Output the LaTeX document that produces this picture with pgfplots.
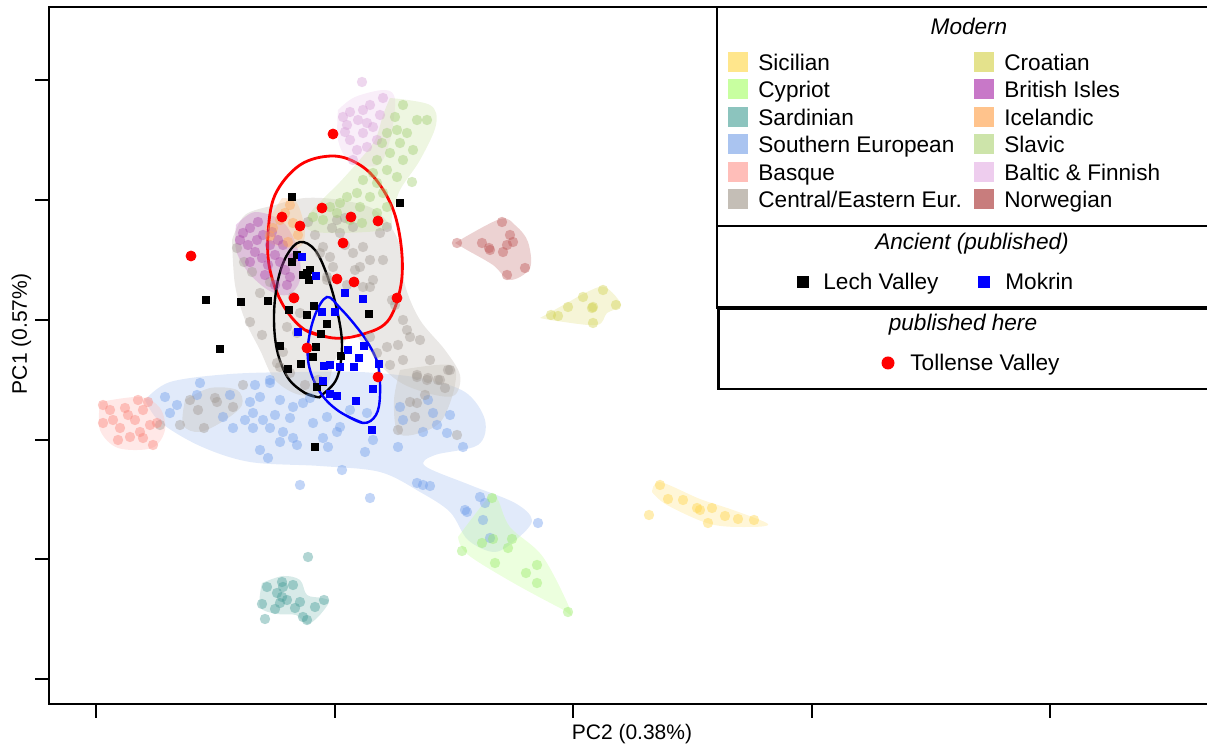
\documentclass[border=0pt]{standalone}
\usepackage{pgfplots}
\pgfplotsset{compat=1.18}
\usepackage{fontspec}
\setmainfont{Liberation Sans}
% point colours
\definecolor{sicP}{RGB}{255,212,70}
\definecolor{croP}{RGB}{210,210,80}
\definecolor{cypP}{RGB}{150,235,100}
\definecolor{briP}{RGB}{170,70,170}
\definecolor{sarP}{RGB}{70,155,150}
\definecolor{iceP}{RGB}{255,165,80}
\definecolor{seuP}{RGB}{110,155,235}
\definecolor{slaP}{RGB}{160,205,110}
\definecolor{basP}{RGB}{250,130,120}
\definecolor{balP}{RGB}{215,160,215}
\definecolor{ceeP}{RGB}{160,152,145}
\definecolor{norP}{RGB}{190,85,85}
% legend / hull colours
\definecolor{sicL}{RGB}{255,230,140}
\definecolor{croL}{RGB}{228,226,140}
\definecolor{cypL}{RGB}{200,255,160}
\definecolor{briL}{RGB}{200,120,200}
\definecolor{sarL}{RGB}{140,196,190}
\definecolor{iceL}{RGB}{255,195,140}
\definecolor{seuL}{RGB}{170,196,240}
\definecolor{slaL}{RGB}{205,228,170}
\definecolor{basL}{RGB}{255,190,185}
\definecolor{balL}{RGB}{238,205,238}
\definecolor{ceeL}{RGB}{196,190,182}
\definecolor{norL}{RGB}{200,125,125}
\definecolor{mokB}{RGB}{0,0,255}
\definecolor{tolR}{RGB}{255,0,0}
\newcommand\lf{\fontsize{11.3}{13}\selectfont}
\newcommand\af{\fontsize{10.5}{12}\selectfont}
\begin{document}
\begin{tikzpicture}
\begin{axis}[
  x=0.5pt, y=0.5pt,
  at={(0,0)}, anchor=south west,
  xmin=49, xmax=1212, ymin=40, ymax=737,
  y filter/.expression={744-y},
  xtick={96,335,573,812,1050}, ytick={65,185,304,424,544,664},
  xticklabels={,,,,,}, yticklabels={,,,,,,},
  tick align=outside, tick pos=left, major tick length=7pt,
  tick style={black, line width=1pt},
  axis line style={black, line width=1.25pt},
  clip=false,
  hull/.style={draw=none, fill=#1, fill opacity=0.35, smooth, tension=0.55, mark=none},
  mod/.style={only marks, mark=*, mark size=2.6pt, color=#1, mark options={draw=none, draw opacity=0, fill=#1, fill opacity=0.42}},
]
% ---------- hulls ----------
\addplot[hull=seuL] coordinates {(145,400) (170,382) (230,374) (300,372) (360,372) (420,378) (465,392) (485,420) (478,445) (435,455) (425,466) (470,485) (515,503) (532,520) (518,538) (495,552) (468,540) (450,512) (420,492) (380,472) (320,466) (250,462) (200,446) (160,422) (145,400)};
\addplot[hull=ceeL] coordinates {(232,240) (245,215) (275,205) (305,198) (340,200) (375,210) (398,240) (405,285) (420,320) (445,350) (460,375) (455,395) (435,395) (405,385) (385,370) (365,345) (350,335) (335,360) (325,390) (300,395) (275,380) (260,350) (245,320) (235,285) (232,240)};
\addplot[hull=ceeL] coordinates {(185,400) (210,388) (237,390) (242,405) (225,420) (200,432) (183,425) (185,400)};
\addplot[hull=ceeL] coordinates {(400,370) (450,365) (455,385) (442,420) (420,433) (398,433) (394,400) (400,370)};
\addplot[hull=briL] coordinates {(236,225) (255,212) (283,222) (298,250) (300,280) (288,295) (268,290) (248,272) (236,250) (236,225)};
\addplot[hull=iceL] coordinates {(282,198) (297,203) (305,232) (298,248) (270,243) (265,228) (282,198)};
\addplot[hull=balL] coordinates {(338,110) (355,97) (385,90) (395,100) (390,140) (378,165) (350,162) (338,140) (338,110)};
\addplot[hull=slaL] coordinates {(390,98) (430,105) (436,125) (420,160) (400,190) (392,215) (385,230) (315,232) (308,216) (340,182) (357,163) (375,140) (383,115) (390,98)};
\addplot[hull=norL] coordinates {(455,243) (500,219) (516,226) (528,242) (530,268) (510,280) (493,265) (467,250) (455,243)};
\addplot[hull=croL] coordinates {(540,318) (567,303) (587,292) (605,287) (621,305) (607,313) (597,325) (557,321) (540,318)};
\addplot[hull=sicL] coordinates {(652,492) (660,482) (700,499) (733,510) (768,524) (748,527) (710,524) (667,505) (652,492)};
\addplot[hull=cypL] coordinates {(458,537) (490,496) (498,500) (510,527) (543,557) (571,612) (560,608) (510,581) (467,554) (458,537)};
\addplot[hull=sarL] coordinates {(262,583) (283,576) (300,580) (307,595) (322,598) (329,602) (318,617) (307,624) (296,615) (277,614) (260,607) (262,583)};
\addplot[hull=basL] coordinates {(100,402) (140,397) (160,408) (165,430) (152,448) (118,448) (100,430) (100,402)};
% ---------- modern points ----------
\addplot[mod=seuP] coordinates {(200,383) (165,397) (177,405) (170,413) (197,395) (223,417) (233,428) (250,402) (260,397) (270,383) (280,400) (293,407) (303,403) (253,413) (263,420) (253,428) (270,428) (283,432) (293,438) (280,442) (260,450) (268,458) (297,445) (313,423) (327,417) (340,427) (337,432) (323,438) (328,447) (350,410) (367,413) (373,440) (365,452) (342,470) (300,485) (370,498) (400,407) (403,420) (423,432) (433,413) (437,425) (450,415) (447,433) (463,447) (398,447) (428,400) (417,483) (423,485) (430,486) (465,510) (480,497) (485,503) (270,380) (467,512) (483,520) (538,523) (490,538) (310,398) (245,420) (275,415) (255,385) (290,418) (230,395)};
\addplot[mod=ceeP] coordinates {(237,248) (244,262) (252,272) (260,293) (270,282) (250,322) (262,335) (277,363) (290,373) (283,352) (293,297) (300,313) (287,327) (297,333) (280,367) (305,385) (318,380) (323,247) (330,257) (340,233) (333,267) (327,280) (353,253) (363,247) (370,260) (360,267) (373,280) (383,260) (380,233) (387,227) (370,287) (353,227) (345,245) (337,220) (355,270) (363,287) (347,285) (320,253) (327,277) (315,235) (308,222) (370,337) (377,353) (387,347) (403,320) (410,337) (420,340) (403,360) (417,377) (427,380) (440,380) (450,370) (407,330) (395,305) (398,345) (430,360) (445,388) (390,365) (392,300) (345,218) (332,228) (198,410) (204,428) (215,398) (217,402) (233,407) (180,425) (243,385) (190,400) (160,425) (417,375) (428,378) (438,380) (448,370) (410,402) (417,403) (415,417) (398,430) (457,435) (425,395)};
\addplot[mod=briP] coordinates {(243,233) (250,228) (257,240) (263,235) (270,245) (255,252) (262,258) (275,255) (280,262) (285,270) (290,277) (268,265) (248,245) (272,232) (283,245) (240,240) (293,258) (258,222) (278,240) (265,275) (250,262) (287,285) (275,285)};
\addplot[mod=iceP] coordinates {(290,205) (285,213) (280,220) (273,228) (293,223) (298,235) (270,236) (288,242)};
\addplot[mod=balP] coordinates {(343,117) (350,112) (363,110) (370,105) (383,98) (358,120) (367,123) (347,125) (373,127) (350,140) (363,133) (357,150) (367,147) (377,140) (353,160) (362,82) (380,115) (345,132)};
\addplot[mod=slaP] coordinates {(403,105) (395,117) (417,120) (427,120) (397,130) (407,133) (387,133) (382,143) (400,143) (413,150) (390,153) (403,160) (377,160) (387,170) (373,173) (397,177) (412,182) (363,180) (377,183) (383,193) (357,193) (370,197) (347,197) (340,203) (360,207) (330,207) (337,213) (313,217) (323,220) (377,213) (387,207) (350,220) (362,223)};
\addplot[mod=norP] coordinates {(457,243) (502,222) (510,235) (513,242) (507,245) (503,252) (490,250) (482,243) (489,248) (525,268) (507,275)};
\addplot[mod=croP] coordinates {(551,315) (558,316) (568,307) (583,297) (603,290) (592,308) (593,307) (616,305) (593,323)};
\addplot[mod=sicP] coordinates {(660,485) (668,499) (683,500) (697,508) (700,510) (712,508) (708,523) (725,516) (738,519) (754,520) (649,515)};
\addplot[mod=cypP] coordinates {(492,498) (462,551) (482,543) (512,539) (508,548) (495,563) (526,573) (537,565) (537,583) (568,612) (493,539)};
\addplot[mod=sarP] coordinates {(308,557) (267,587) (282,582) (293,585) (277,593) (282,597) (287,600) (280,603) (262,604) (275,609) (265,619) (300,602) (295,608) (315,607) (324,600) (303,617) (307,620) (283,587)};
\addplot[mod=basP] coordinates {(103,405) (110,410) (103,423) (113,420) (120,428) (128,415) (135,420) (143,410) (148,402) (140,432) (130,437) (118,440) (143,438) (150,425) (157,423) (125,408) (138,400) (153,445)};
% ---------- ellipses ----------
\addplot[smooth, tension=0.6, line width=1.4pt, tolR, mark=none] coordinates {(333,338) (305,330) (283,305) (270,270) (268,235) (275,195) (300,165) (333,156) (360,165) (380,185) (395,215) (402,255) (400,290) (387,322) (360,335) (333,338) (305,330)};
\addplot[smooth, tension=0.6, line width=1.2pt, black, mark=none] coordinates {(317,397) (305,393) (288,378) (277,350) (274,315) (278,280) (287,255) (300,242) (315,250) (327,275) (337,310) (342,345) (337,378) (322,395) (317,397) (305,393)};
\addplot[smooth, tension=0.6, line width=1.2pt, mokB, mark=none] coordinates {(363,423) (340,412) (322,395) (310,370) (308,345) (315,315) (327,297) (340,308) (355,325) (368,343) (378,365) (380,395) (376,415) (363,423) (340,412)};
% ---------- ancient ----------
\addplot[only marks, mark=square*, mark size=1.9pt, black] coordinates {(292,197) (400,203) (206,300) (241,302) (268,301) (220,349) (297,255) (292,262) (307,273) (310,270) (309,280) (303,275) (314,306) (307,315) (289,310) (327,324) (369,314) (321,334) (280,346) (316,347) (313,357) (301,364) (288,369) (341,356) (317,387) (323,382) (315,447)};
\addplot[only marks, mark=square*, mark size=1.9pt, mokB] coordinates {(302,257) (316,276) (345,293) (363,299) (322,312) (335,312) (298,332) (348,350) (364,346) (359,358) (354,367) (340,367) (324,366) (330,365) (379,364) (323,381) (330,394) (337,396) (356,401) (373,389) (372,430)};
\addplot[only marks, mark=*, mark size=2.5pt, tolR, mark options={draw=none, fill=tolR}] coordinates {(333,134) (282,217) (322,208) (351,217) (378,221) (300,226) (191,256) (343,243) (337,279) (354,282) (294,298) (397,298) (307,348) (378,377)};
\end{axis}
% ---------- legend & labels in pixel coordinates ----------
\begin{scope}[shift={(-24.5pt,352pt)}, x=0.5pt, y=-0.5pt]
\fill[white] (717,7) rectangle (1260,389);
\draw[line width=1.3pt] (717,7) rectangle (1260,226);
\draw[line width=1.3pt] (717,226) rectangle (1260,307.5);
\draw[line width=1.3pt] (718.5,309) rectangle (1260,389);
\node[font=\lf\itshape, anchor=base] at (969,35) {Modern};
\foreach \c/\t [count=\i] in {sicL/Sicilian, cypL/Cypriot, sarL/Sardinian, seuL/Southern European, basL/Basque, ceeL/Central\slash Eastern Eur.}{
  \pgfmathsetmacro\yy{62+27.4*(\i-1)}
  \fill[\c] (728,\yy-10) rectangle (748,\yy+10);
  \node[font=\lf, anchor=base west, inner sep=0pt] at (758,\yy+8.5) {\t};
}
\foreach \c/\t [count=\i] in {croL/Croatian, briL/British Isles, iceL/Icelandic, slaL/Slavic, balL/Baltic \& Finnish, norL/Norwegian}{
  \pgfmathsetmacro\yy{62+27.4*(\i-1)}
  \fill[\c] (974,\yy-10) rectangle (994,\yy+10);
  \node[font=\lf, anchor=base west, inner sep=0pt] at (1004,\yy+8.5) {\t};
}
\node[font=\lf\itshape, anchor=base] at (972,250) {Ancient (published)};
\fill[black] (797,276) rectangle (809,288);
\node[font=\lf, anchor=base west, inner sep=0pt] at (823,290) {Lech Valley};
\fill[mokB] (978,276) rectangle (990,288);
\node[font=\lf, anchor=base west, inner sep=0pt] at (1005,290) {Mokrin};
\node[font=\lf\itshape, anchor=base] at (963,331) {published here};
\fill[tolR] (888,363) circle[radius=6.5];
\node[font=\lf, anchor=base west, inner sep=0pt] at (910,371) {Tollense Valley};
\node[font=\af, anchor=base] at (632,740) {PC2 (0.38\%)};
\node[font=\af, anchor=base, rotate=90] at (27,334) {PC1 (0.57\%)};
\pgfresetboundingbox
\path[use as bounding box] (0,0) rectangle (1207,744);
\end{scope}
\end{tikzpicture}
\end{document}
